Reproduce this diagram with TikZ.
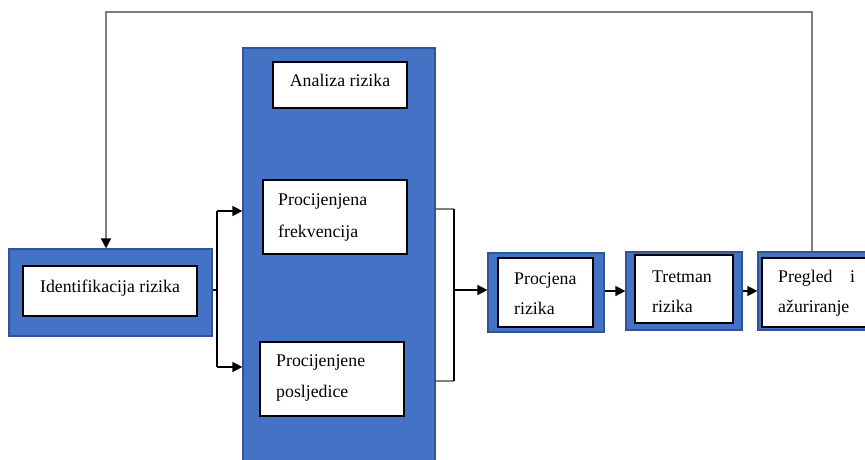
\documentclass[tikz,border=0pt]{standalone}
\usepackage{fontspec}
\setmainfont{Liberation Serif}
\usetikzlibrary{arrows.meta}
\definecolor{wblue}{HTML}{4472C4}
\definecolor{wedge}{HTML}{2F5597}
\definecolor{fgray}{HTML}{7F7F7F}
\tikzset{
  outerbox/.style={draw=wedge, line width=1.2pt, fill=wblue, inner sep=0pt, minimum width=#1},
  innerbox/.style={draw=black, line width=1.2pt, fill=white, inner sep=0pt},
  lbl/.style={anchor=base west, inner sep=0pt, font=\fontsize{17.8}{20}\selectfont},
  clbl/.style={anchor=base, inner sep=0pt, font=\fontsize{17.8}{20}\selectfont},
  conn/.style={draw=black, line width=1.4pt},
  arr/.style={conn, -{Triangle[length=10pt,width=10pt,black]}},
}
\begin{document}
\begin{tikzpicture}[x=1pt,y=-1pt]
\useasboundingbox (0,0) rectangle (865,460);
\clip (0,0) rectangle (865,460);
% outer boxes
\node[outerbox=203pt, minimum height=87pt] (idOut) at (110.5,292.5) {};
\node[outerbox=192pt, minimum height=422pt] (anOut) at (339,259) {};
\node[outerbox=116pt, minimum height=79pt] (prOut) at (546,292.5) {};
\node[outerbox=116pt, minimum height=78pt] (trOut) at (684,291) {};
\node[outerbox=122pt, minimum height=78pt] (pgOut) at (819,291) {};
% inner boxes
\node[innerbox, minimum width=174pt, minimum height=50pt] (idIn) at (110,291) {};
\node[innerbox, minimum width=134pt, minimum height=46pt] (anIn) at (340,85) {};
\node[innerbox, minimum width=144pt, minimum height=74pt] (frIn) at (335,217) {};
\node[innerbox, minimum width=144pt, minimum height=74pt] (poIn) at (332,379) {};
\node[innerbox, minimum width=95pt, minimum height=69pt] (prIn) at (545.5,292.5) {};
\node[innerbox, minimum width=98pt, minimum height=68pt] (trIn) at (684,289) {};
\node[innerbox, minimum width=118pt, minimum height=69pt] (pgIn) at (821,292.5) {};
% texts
\node[clbl] (tId) at (110,292) {Identifikacija rizika};
\node[clbl] (tAn) at (340,86) {Analiza rizika};
\node[lbl] (tFr1) at (278,205) {Procijenjena};
\node[lbl] (tFr2) at (278,237) {frekvencija};
\node[lbl] (tPo1) at (276,366) {Procijenjene};
\node[lbl] (tPo2) at (276,397) {posljedice};
\node[lbl] (tPr1) at (514,284) {Procjena};
\node[lbl] (tPr2) at (514,314) {rizika};
\node[lbl] (tTr1) at (652,282) {Tretman};
\node[lbl] (tTr2) at (652,312) {rizika};
\node[lbl] (tPg1) at (778,282) {Pregled};
\node[lbl] (tPg3) at (850,282) {i};
\node[lbl] (tPg2) at (778,312) {ažuriranje};
% split connector
\coordinate (split) at (217,290);
\coordinate (splitT) at (217,211);
\coordinate (splitB) at (217,367);
\draw[conn] (idOut.east |- split) -- (split);
\draw[conn] (splitT) -- (splitB);
\draw[arr] (splitT) -- (anOut.west |- splitT);
\draw[arr] (splitB) -- (anOut.west |- splitB);
% merge connector
\coordinate (mergeT) at (454,209);
\coordinate (mergeB) at (454,381);
\coordinate (merge) at (454,290);
\draw[conn, draw=fgray] (anOut.east |- mergeT) -- (mergeT);
\draw[conn, draw=fgray] (anOut.east |- mergeB) -- (mergeB);
\draw[conn] (mergeT) -- (mergeB);
\draw[arr] (merge) -- (prOut.west |- merge);
% chain
\draw[arr] (prOut.east |- 0,291) -- (trOut.west |- 0,291);
\draw[arr] (trOut.east |- 0,291) -- (pgOut.west |- 0,291);
% feedback
\coordinate (fbR) at (812,12);
\coordinate (fbL) at (106,12);
\draw[arr, draw=fgray, line width=1.6pt] (pgOut.north -| fbR) -- (fbR) -- (fbL) -- (idOut.north -| fbL);
\end{tikzpicture}
\end{document}
